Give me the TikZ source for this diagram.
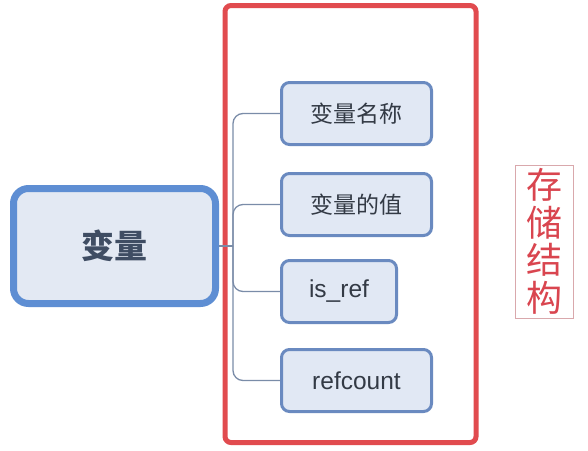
\documentclass[tikz,border=0pt]{standalone}
\usepackage{fontspec}
\setmainfont{Liberation Sans}
\newfontfamily\cjk{Noto Sans CJK SC}
\definecolor{mainfill}{HTML}{E3E9F3}
\definecolor{mainborder}{HTML}{5E8ED3}
\definecolor{childfill}{HTML}{E1E8F4}
\definecolor{childborder}{HTML}{6A8AC0}
\definecolor{childtext}{HTML}{333A45}
\definecolor{maintext}{HTML}{3F4D63}
\definecolor{redframe}{HTML}{E14B4F}
\definecolor{conn}{HTML}{7A8CA8}
\definecolor{labelred}{HTML}{D9454F}
\definecolor{labelframe}{HTML}{D9A8AC}
\begin{document}
\begin{tikzpicture}[x=1pt,y=-1pt,
  mainbox/.style={draw=mainborder,fill=mainfill,line width=7pt,rounded corners=15pt,
    minimum width=202pt,minimum height=115pt,inner sep=0pt,text=maintext,
    font=\cjk\bfseries\fontsize{33}{36}\selectfont},
  childbox/.style={draw=childborder,fill=childfill,line width=3pt,rounded corners=8pt,
    minimum height=62pt,inner sep=0pt,text=childtext},
  cjktext/.style={font=\cjk\fontsize{23}{26}\selectfont},
  lattext/.style={font=\fontsize{24.5}{27}\selectfont},
  connector/.style={draw=conn,line width=1.3pt,rounded corners=10pt}]
\useasboundingbox (0,0) rectangle (588,450);
\fill[white] (0,0) rectangle (588,450);
% red frame
\node[draw=redframe,line width=5pt,rounded corners=6pt,minimum width=251pt,minimum height=437pt,inner sep=0pt] (frame) at (350.5,224) {};
% main node
\node[mainbox] (main) at (114.5,246) {变量};
% children
\node[childbox,minimum width=150pt,cjktext] (c1) at (356.5,113.5) {变量名称};
\node[childbox,minimum width=150pt,cjktext] (c2) at (356.5,204.5) {变量的值};
\node[childbox,minimum width=115pt,lattext] (c3) at (339,291.5) {is\_ref};
\node[childbox,minimum width=150pt,lattext] (c4) at (356.5,380.5) {refcount};
% connectors
\coordinate (j) at (233,246);
\draw[connector] (main.east) -- (j);
\draw[connector] (j) |- (c1.west);
\draw[connector] (j) |- (c2.west);
\draw[connector] (j) |- (c3.west);
\draw[connector] (j) |- (c4.west);
% label
\node[draw=labelframe,line width=0.8pt,minimum width=58pt,minimum height=153pt,inner sep=0pt,
  text=labelred,font=\cjk\fontsize{36}{38}\selectfont,align=center] (lbl) at (544,241.5)
  {存\\[-0.5pt]储\\[-0.5pt]结\\[-0.5pt]构};
\end{tikzpicture}
\end{document}
